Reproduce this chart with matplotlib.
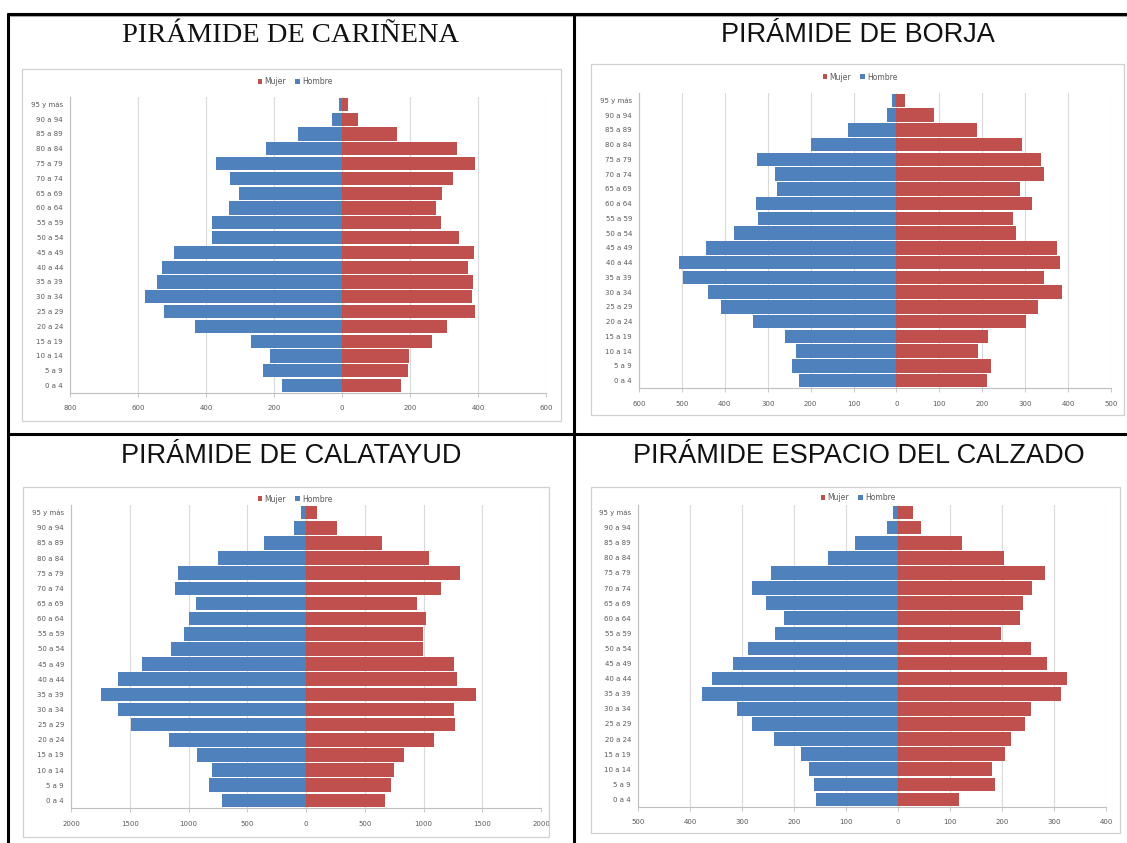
"""
Pirámides de población de cuatro municipios (Cariñena, Borja, Calatayud y
Espacio del Calzado), en una rejilla de 2x2 con marcos negros.
"""
import numpy as np
import matplotlib
matplotlib.use("Agg")
import matplotlib.pyplot as plt
from matplotlib.lines import Line2D
from matplotlib.patches import Rectangle
from matplotlib.transforms import Bbox, TransformedBbox

W, H = 1127, 843     # pixels
MUJER_COLOR = "#C0504D"
HOMBRE_COLOR = "#4F81BD"
GRAY_TEXT = "#595959"

edades = ["0 a 4", "5 a 9", "10 a 14", "15 a 19", "20 a 24", "25 a 29",
          "30 a 34", "35 a 39", "40 a 44", "45 a 49", "50 a 54", "55 a 59",
          "60 a 64", "65 a 69", "70 a 74", "75 a 79", "80 a 84", "85 a 89",
          "90 a 94", "95 y más"]

carinena_hombre = [177, 231, 211, 268, 433, 525, 580, 544, 529, 494,
                   381, 382, 331, 302, 329, 371, 223, 130, 28, 9]
carinena_mujer = [173, 193, 197, 265, 308, 390, 381, 384, 371, 388,
                  345, 291, 275, 295, 327, 392, 337, 162, 48, 17]

borja_hombre = [226, 243, 234, 260, 335, 409, 439, 497, 506, 444,
                379, 322, 328, 279, 282, 325, 199, 114, 23, 10]
borja_mujer = [211, 221, 190, 214, 302, 329, 386, 345, 381, 375,
               278, 272, 316, 288, 344, 338, 293, 187, 87, 21]

calatayud_hombre = [712, 824, 796, 929, 1164, 1492, 1598, 1743, 1598, 1399,
                    1146, 1037, 994, 935, 1118, 1093, 752, 356, 105, 43]
calatayud_mujer = [669, 724, 752, 833, 1087, 1272, 1263, 1449, 1288, 1260,
                   994, 997, 1022, 941, 1146, 1310, 1046, 650, 260, 90]

calzado_hombre = [157, 161, 171, 187, 238, 280, 310, 376, 358, 318,
                  289, 237, 219, 253, 280, 245, 135, 82, 22, 10]
calzado_mujer = [117, 186, 181, 206, 217, 245, 255, 313, 325, 286,
                 256, 199, 235, 241, 257, 282, 203, 123, 45, 29]


def px_rect(x0, y0, x1, y1):
    """ pixel box (top-left origin) -> figure [left, bottom, width, height]
    """
    return [x0 / W, 1 - y1 / H, (x1 - x0) / W, (y1 - y0) / H]


def fig_line(fig, x0, y0, x1, y1, color="black", lw=2.2):
    fig.add_artist(Line2D([x0 / W, x1 / W], [1 - y0 / H, 1 - y1 / H],
                          transform=fig.transFigure, color=color, lw=lw,
                          solid_capstyle="butt"))


def draw_pyramid(fig, hombre, mujer, title, frame, plot, legend_xy,
                 title_xy, xlim, step, serif=False, clip_y=None):
    """ draw_pyramid
    """
    # chart frame
    fx = px_rect(*frame)
    fig.add_artist(Rectangle((fx[0], fx[1]), fx[2], fx[3],
                             transform=fig.transFigure, fill=False,
                             edgecolor="#D0D0D0", lw=0.9))

    ax = fig.add_axes(px_rect(*plot))
    y = np.arange(len(edades))
    ax.barh(y, mujer, height=0.9, color=MUJER_COLOR, label="Mujer", zorder=3)
    ax.barh(y, -np.array(hombre), height=0.9, color=HOMBRE_COLOR,
            label="Hombre", zorder=3)

    ax.set_ylim(-0.5, len(edades) - 0.5)
    ax.set_xlim(*xlim)
    ticks = np.arange(xlim[0], xlim[1] + 1, step)
    ax.set_xticks(ticks)
    ax.set_xticklabels([str(abs(t)) for t in ticks])
    ax.set_yticks(y)
    ax.set_yticklabels(edades)
    ax.tick_params(axis="x", labelsize=5, colors=GRAY_TEXT, length=3,
                   width=0.6, color="#BFBFBF", pad=6)
    ax.tick_params(axis="y", labelsize=5, colors=GRAY_TEXT, length=0, pad=5)
    ax.grid(axis="x", color="#D9D9D9", lw=0.8, zorder=0)
    ax.set_axisbelow(True)
    for side in ("top", "right"):
        ax.spines[side].set_visible(False)
    for side in ("left", "bottom"):
        ax.spines[side].set_color("#BFBFBF")
        ax.spines[side].set_linewidth(0.8)

    ax.legend(loc="center", ncol=2, frameon=False, fontsize=5.5,
              bbox_to_anchor=(legend_xy[0] / W, 1 - legend_xy[1] / H),
              bbox_transform=fig.transFigure, handlelength=0.6,
              handleheight=0.6, handletextpad=0.3, columnspacing=1.2,
              labelcolor=GRAY_TEXT)

    family = "Liberation Serif" if serif else "Liberation Sans"
    size = 20.5 if serif else 19.5
    t = fig.text(title_xy[0] / W, 1 - title_xy[1] / H, title,
                 ha="center", va="baseline", fontsize=size, family=family,
                 color="#111111")
    if clip_y is not None:
        # lower edge of the heading is cut off
        box = Bbox([[0, 1 - clip_y / H], [1, 1]])
        t.set_clip_box(TransformedBbox(box, fig.transFigure))
        t.set_clip_on(True)
    return ax


def main():
    """ main
    """
    fig = plt.figure(figsize=(W / 100, H / 100), dpi=100)
    fig.patch.set_facecolor("white")

    draw_pyramid(fig, carinena_hombre, carinena_mujer,
                 "PIRÁMIDE DE CARIÑENA",
                 frame=(22, 69, 561, 421), plot=(70, 97, 546, 393),
                 legend_xy=(295, 82), title_xy=(291, 42),
                 xlim=(-800, 600), step=200, serif=True, clip_y=41.5)
    draw_pyramid(fig, borja_hombre, borja_mujer,
                 "PIRÁMIDE DE BORJA",
                 frame=(591, 64, 1124, 415), plot=(639, 93, 1111, 388),
                 legend_xy=(860, 77), title_xy=(858, 42),
                 xlim=(-600, 500), step=100, clip_y=41.5)
    draw_pyramid(fig, calatayud_hombre, calatayud_mujer,
                 "PIRÁMIDE DE CALATAYUD",
                 frame=(23, 487, 549, 837), plot=(71, 505, 541, 808),
                 legend_xy=(295, 499), title_xy=(291, 463),
                 xlim=(-2000, 2000), step=500)
    draw_pyramid(fig, calzado_hombre, calzado_mujer,
                 "PIRÁMIDE ESPACIO DEL CALZADO",
                 frame=(591, 487, 1120, 833), plot=(638, 505, 1106, 807),
                 legend_xy=(858, 498), title_xy=(859, 463),
                 xlim=(-500, 400), step=100)

    # black panel borders
    fig_line(fig, 7, 16, 1127, 16, color="#AAAAAA", lw=0.8)
    fig_line(fig, 7, 13.5, 1127, 13.5)
    fig_line(fig, 8, 12.5, 8, 843)
    fig_line(fig, 573.5, 12.5, 573.5, 843)
    fig_line(fig, 7, 434.5, 1127, 434.5)

    fig.savefig("out.png", dpi=100, facecolor="white")
    plt.close(fig)


if __name__ == '__main__':
    main()
